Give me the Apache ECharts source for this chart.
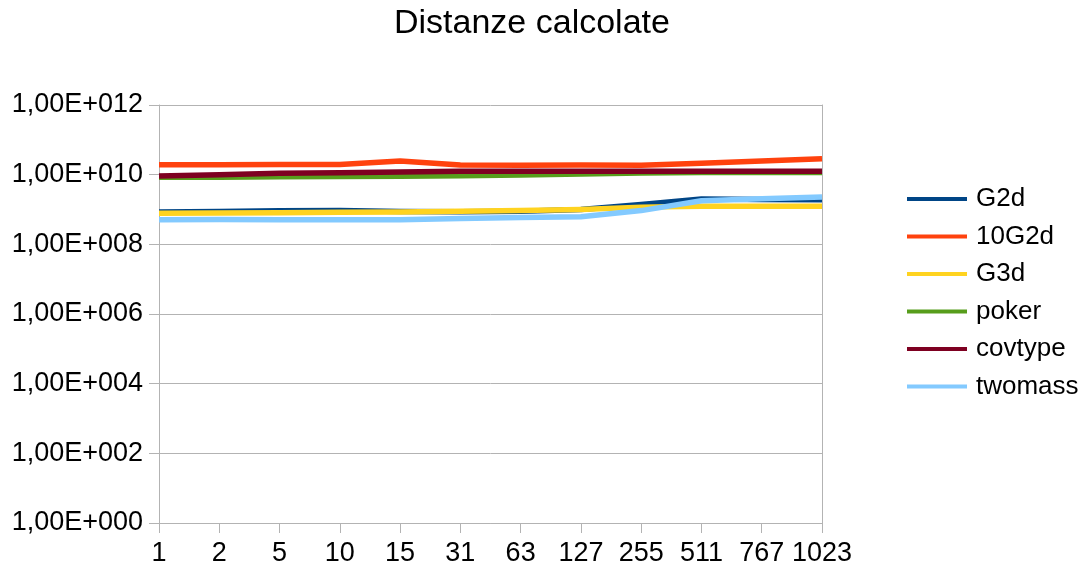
<!DOCTYPE html>
<html>
<head>
<meta charset="utf-8">
<title>Distanze calcolate</title>
<script src="https://cdn.jsdelivr.net/npm/echarts@6/dist/echarts.min.js"></script>
<style>
  html, body { margin: 0; padding: 0; background: #ffffff; }
  #chart { width: 1085px; height: 571px; }
</style>
</head>
<body>
<div id="chart"></div>
<script>
// Categories on the x axis
const categories = ['1', '2', '5', '10', '15', '31', '63', '127', '255', '511', '767', '1023'];

// Computed distances per data set
const g2d     = [8.5e8, 8.7e8, 9.2e8, 9.4e8, 8.7e8, 8.6e8, 8.9e8, 1.0e9, 1.4e9, 2.0e9, 1.95e9, 1.9e9];
const g2d10   = [1.93e10, 1.93e10, 1.95e10, 1.95e10, 2.45e10, 1.9e10, 1.86e10, 1.9e10, 1.86e10, 2.14e10, 2.45e10, 2.88e10];
const g3d     = [7.8e8, 7.9e8, 8.1e8, 8.3e8, 8.5e8, 8.9e8, 9.3e8, 1.0e9, 1.17e9, 1.23e9, 1.23e9, 1.23e9];
const poker   = [8.4e9, 8.5e9, 8.7e9, 8.8e9, 9.0e9, 9.3e9, 9.8e9, 1.05e10, 1.12e10, 1.15e10, 1.15e10, 1.15e10];
const covtype = [9.1e9, 1.0e10, 1.1e10, 1.14e10, 1.19e10, 1.26e10, 1.26e10, 1.26e10, 1.26e10, 1.26e10, 1.26e10, 1.26e10];
const twomass = [5.1e8, 5.2e8, 5.1e8, 5.1e8, 5.1e8, 5.5e8, 5.9e8, 6.2e8, 9.3e8, 1.78e9, 2.04e9, 2.29e9];

const seriesNames  = ['G2d', '10G2d', 'G3d', 'poker', 'covtype', 'twomass'];
const seriesData   = [g2d, g2d10, g3d, poker, covtype, twomass];
const seriesColors = ['#004586', '#ff420e', '#ffd320', '#579d1c', '#7e0021', '#83caff'];

const FONT = '"Liberation Sans", Arial, sans-serif';
const GRID_COLOR = '#b3b3b3';

// Y labels in the spreadsheet style: 1,00E+012
function sciLabel(v) {
  const exp = Math.round(Math.log10(v));
  return '1,00E+' + String(exp).padStart(3, '0');
}

const chart = echarts.init(document.getElementById('chart'), null, { renderer: 'canvas' });

chart.setOption({
  backgroundColor: '#ffffff',
  animation: false,
  title: {
    text: 'Distanze calcolate',
    left: 389,
    top: 2,
    textStyle: { fontFamily: FONT, fontSize: 34, fontWeight: 'normal', color: '#000000' }
  },
  legend: {
    orient: 'vertical',
    left: 907,
    top: 186,
    padding: 0,
    icon: 'rect',
    itemWidth: 60,
    itemHeight: 4,
    itemGap: 11.5,
    data: seriesNames,
    textStyle: { fontFamily: FONT, fontSize: 26, color: '#000000', lineHeight: 26, padding: [0, 0, 0, 4] }
  },
  grid: { left: 159, right: 263, top: 105, bottom: 48, containLabel: false },
  xAxis: {
    type: 'category',
    data: categories,
    boundaryGap: false,
    axisLine: { show: true, lineStyle: { color: GRID_COLOR, width: 1 } },
    axisTick: { show: true, length: 10, interval: 0, lineStyle: { color: GRID_COLOR } },
    axisLabel: { fontFamily: FONT, fontSize: 27, color: '#000000', margin: 17, interval: 0 },
    splitLine: { show: false }
  },
  yAxis: [
    {
      type: 'log',
      logBase: 10,
      min: 1,
      max: 1e12,
      interval: 2,
      axisLine: { show: true, lineStyle: { color: GRID_COLOR, width: 1 } },
      axisTick: { show: true, length: 10, lineStyle: { color: GRID_COLOR } },
      axisLabel: { fontFamily: FONT, fontSize: 27, color: '#000000', margin: 16, formatter: sciLabel },
      splitLine: { show: true, lineStyle: { color: GRID_COLOR, width: 1 } },
      minorTick: { show: false }
    },
    {
      // right-hand frame of the plot area
      type: 'value',
      position: 'right',
      min: 0,
      max: 1,
      axisLine: { show: true, lineStyle: { color: GRID_COLOR, width: 1 } },
      axisTick: { show: false },
      axisLabel: { show: false },
      splitLine: { show: false }
    }
  ],
  series: seriesNames.map((name, i) => ({
    name: name,
    type: 'line',
    yAxisIndex: 0,
    data: seriesData[i],
    symbol: 'none',
    color: seriesColors[i],
    lineStyle: { color: seriesColors[i], width: 5.5, join: 'round' },
    z: 2 + i
  }))
});
</script>
</body>
</html>
